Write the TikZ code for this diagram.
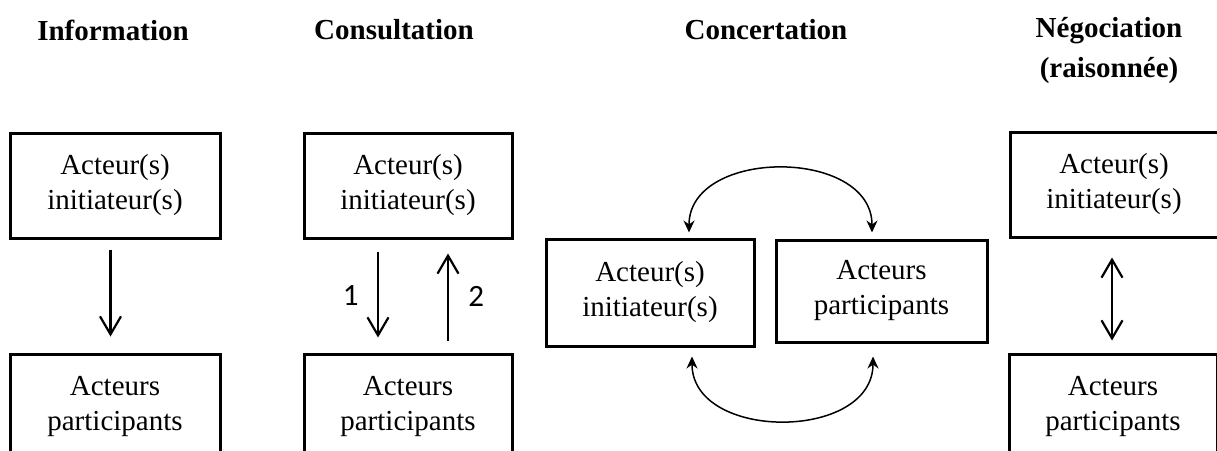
\documentclass[tikz,border=0pt]{standalone}
\usepackage{fontspec}
\setmainfont{Liberation Serif}
\newfontfamily\numfont{Carlito}
\usetikzlibrary{positioning,arrows.meta}

\begin{document}
\begin{tikzpicture}[
  x=1pt,y=-1pt,
  acteur/.style={draw,line width=3pt,minimum width=208pt,minimum height=105pt,inner sep=0pt,align=center,font=\fontsize{29}{35}\selectfont},
  titre/.style={align=center,font=\fontsize{29}{40}\selectfont\bfseries},
  fleche/.style={line width=2.2pt,-{Straight Barb[length=18pt,width=21pt]}},
  double/.style={line width=2.2pt,{Straight Barb[length=18pt,width=21pt]}-{Straight Barb[length=18pt,width=21pt]}},
  arc/.style={line width=1.5pt,{Stealth[length=12pt,width=11pt]}-{Stealth[length=12pt,width=11pt]}},
  num/.style={font=\fontsize{31}{34}\selectfont\numfont}
]
\useasboundingbox (0,0) rectangle (1217,450);
\clip (0,0) rectangle (1217,450);
% --- titles ---
\node[titre] (tinfo) at (113,30) {Information};
\node[titre] (tcons) at (394,30) {Consultation};
\node[titre] (tconc) at (766,30) {Concertation};
\node[titre] (tnego) at (1109,51) {Négociation\\(raisonnée)};
% --- information ---
\node[acteur,minimum width=210pt] (init1) at (115,185.5) {Acteur(s)\\initiateur(s)};
\node[acteur,minimum width=210pt] (part1) at (115,406.5) {Acteurs\\participants};
\draw[fleche,shorten <=10pt,shorten >=16pt] ([xshift=-4.5pt]init1.south) -- ([xshift=-4.5pt]part1.north);
% --- consultation ---
\node[acteur] (init2) at (408,185.5) {Acteur(s)\\initiateur(s)};
\node[acteur] (part2) at (408,406.5) {Acteurs\\participants};
\draw[fleche,shorten <=12pt,shorten >=15pt] ([xshift=-30pt]init2.south) -- node[num,left=15pt]{1} ([xshift=-30pt]part2.north);
\draw[fleche,shorten <=12pt,shorten >=14pt] ([xshift=40pt]part2.north) -- node[num,right=16pt]{2} ([xshift=40pt]init2.south);
% --- concertation ---
\node[acteur,minimum height=107pt] (init3) at (650,292.5) {Acteur(s)\\initiateur(s)};
\node[acteur,minimum width=211pt,minimum height=102pt] (part3) at (881.5,291) {Acteurs\\participants};
\draw[arc] ([xshift=39pt,yshift=5pt]init3.north) .. controls +(0,-85) and +(0,-85) .. ([xshift=-9.5pt,yshift=6pt]part3.north);
\draw[arc] ([xshift=42pt,yshift=-9pt]init3.south) .. controls +(0,85) and +(0,85) .. ([xshift=-8.5pt,yshift=-13pt]part3.south);
% --- negociation ---
\node[acteur] (init4) at (1114,184.5) {Acteur(s)\\initiateur(s)};
\node[acteur] (part4) at (1113,406.5) {Acteurs\\participants};
\draw[double,shorten <=19pt,shorten >=12pt] ([xshift=-2pt]init4.south) -- ([xshift=-1pt]part4.north);
\end{tikzpicture}
\end{document}
